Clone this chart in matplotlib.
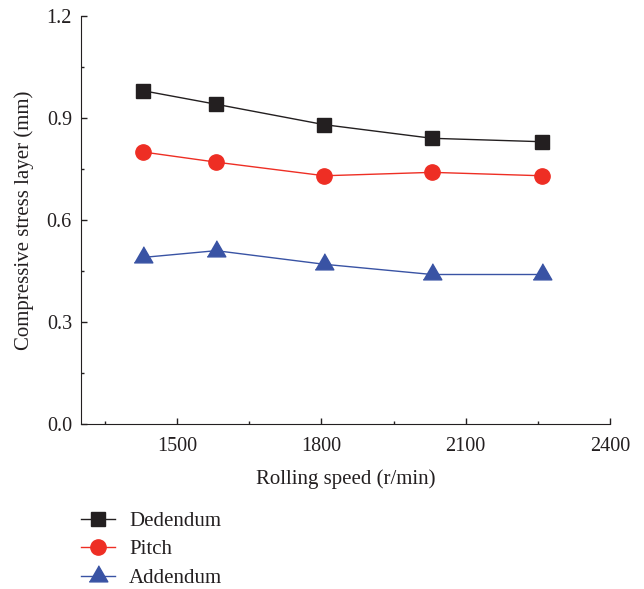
import matplotlib.pyplot as plt
from matplotlib.ticker import MultipleLocator

plt.rcParams['font.family'] = ['Liberation Serif', 'DejaVu Serif']

# rolling speed (r/min) and depth of compressive stress layer (mm)
speed = [1428, 1581, 1806, 2030, 2258]
dedendum = [0.98, 0.94, 0.88, 0.84, 0.83]
pitch = [0.80, 0.77, 0.73, 0.74, 0.73]
addendum = [0.49, 0.51, 0.47, 0.44, 0.44]

# equilateral triangle centred on its centroid
tri = [(-1, -0.577), (1, -0.577), (0, 1.155)]

fig = plt.figure(figsize=(6.44, 5.89), dpi=100)
ax = fig.add_axes([0.1258, 0.2796, 0.8214, 0.6937])

ax.plot(speed, dedendum, color='#231f20', lw=1, marker='s', ms=10, label='Dedendum')
ax.plot(speed, pitch, color='#ee2e24', lw=1, marker='o', ms=11, label='Pitch')
ax.plot(speed, addendum, color='#3953a4', lw=1, marker=tri, ms=15.5, label='Addendum')

ax.set_xlim(1300, 2400)
ax.set_ylim(0, 1.2)
ax.xaxis.set_major_locator(MultipleLocator(300))
ax.xaxis.set_minor_locator(MultipleLocator(150))
ax.yaxis.set_major_locator(MultipleLocator(0.3))
ax.yaxis.set_minor_locator(MultipleLocator(0.15))
ax.yaxis.set_major_formatter(plt.FormatStrFormatter('%.1f'))
ax.tick_params(which='both', direction='in', labelsize=14.5, width=1, colors='#231f20')
ax.tick_params(which='major', length=4.5)
ax.tick_params(which='minor', length=2.5)
ax.tick_params(axis='x', which='major', pad=9)
ax.tick_params(axis='y', which='major', pad=6.5)

for side in ['top', 'right']:
    ax.spines[side].set_visible(False)
for side in ['left', 'bottom']:
    ax.spines[side].set_color('#231f20')

ax.set_xlabel('Rolling speed (r/min)', fontsize=15, labelpad=9.5, color='#231f20')
ax.set_ylabel('Compressive stress layer (mm)', fontsize=15, labelpad=9, color='#231f20')

leg = fig.legend(loc='upper left', bbox_to_anchor=(0.113, 0.146, 0.4, 0.0), bbox_transform=fig.transFigure,
                 frameon=False, fontsize=15, handlelength=1.65, handletextpad=0.65, labelspacing=0.43,
                 borderaxespad=0)
for t in leg.get_texts():
    t.set_color('#231f20')

fig.savefig('out.png', dpi=100)
